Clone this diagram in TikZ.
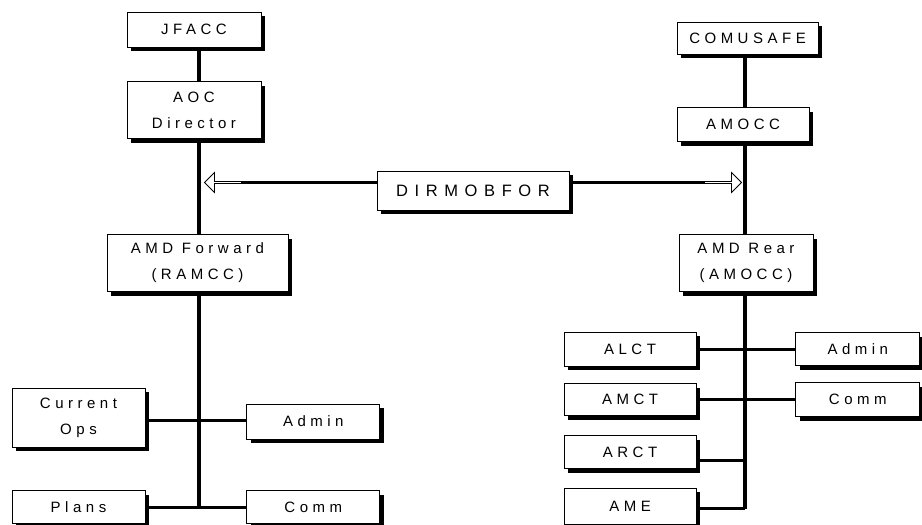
\documentclass[tikz,border=0pt]{standalone}
\usepackage{fontspec}
\setmainfont{Liberation Sans}[LetterSpace=30]
\usetikzlibrary{positioning,shadows,shapes.arrows}

\begin{document}
\begin{tikzpicture}[x=1pt, y=-1pt,
    org/.style={draw, fill=white, line width=0.8pt, inner sep=0pt, align=center,
        font=\fontsize{15}{26}\selectfont,
        drop shadow={shadow xshift=4pt, shadow yshift=-4pt, fill=black, opacity=1}},
    wide/.style={font=\fontsize{16.5}{26}\selectfont\addfontfeature{LetterSpace=40}},
    spine/.style={line width=3.5pt},
    branch/.style={line width=3pt},
    hollow/.style={single arrow, draw, fill=white, line width=0.8pt, inner sep=0pt,
        minimum height=37pt, minimum width=20pt, single arrow head extend=4pt}
]
    \useasboundingbox (0,0) rectangle (922,525);

    % Forward side
    \node[org, minimum width=134pt, minimum height=35pt] (jfacc) at (194,29.5) {JFACC};
    \node[org, minimum width=134pt, minimum height=57pt, below=34pt of jfacc] (aoc) {AOC\\Director};
    \node[org, minimum width=181pt, minimum height=57pt, below=95pt of aoc, xshift=3.5pt] (amdf) {AMD Forward\\(RAMCC)};

    \node[org, minimum width=133pt, minimum height=59pt] (curops) at (78.5,417.5) {Current\\Ops};
    \node[org, minimum width=133pt, minimum height=33pt, below=43pt of curops] (plans) {Plans};
    \node[org, minimum width=133pt, minimum height=35pt, right=101pt of curops, yshift=-4pt] (ladmin) {Admin};
    \node[org, minimum width=133pt, minimum height=33pt, right=101pt of plans] (lcomm) {Comm};

    % Rear side
    \node[org, minimum width=141pt, minimum height=32pt] (comusafe) at (747.5,38) {COMUSAFE};
    \node[org, minimum width=132pt, minimum height=34pt, below=53pt of comusafe, xshift=-4.5pt] (amocc) {AMOCC};
    \node[org, minimum width=134pt, minimum height=57pt, below=92pt of amocc, xshift=3pt] (amdr) {AMD Rear\\(AMOCC)};

    \node[org, minimum width=132pt, minimum height=34pt] (alct) at (630,349) {ALCT};
    \node[org, minimum width=132pt, minimum height=32pt, below=17pt of alct] (amct) {AMCT};
    \node[org, minimum width=132pt, minimum height=33pt, below=19pt of amct] (arct) {ARCT};
    \node[org, minimum width=132pt, minimum height=36pt, below=19pt of arct] (ame) {AME};
    \node[org, minimum width=124pt, minimum height=33pt, right=99pt of alct] (radmin) {Admin};
    \node[org, minimum width=124pt, minimum height=34pt, right=99pt of amct] (rcomm) {Comm};

    % Director of mobility forces
    \node[org, wide, minimum width=192pt, minimum height=39pt] (dirmob) at (473,190.5) {DIRMOBFOR};
    \node[hollow, shape border rotate=180] (larrow) at (223.5,182.5) {};
    \node[hollow] (rarrow) at (722.5,182.5) {};

    \coordinate (lsp) at (199,0);
    \coordinate (rsp) at (745,0);

    % Lines
    \draw[spine] (jfacc.south -| lsp) -- (aoc.north -| lsp);
    \draw[spine] (aoc.south -| lsp) -- (amdf.north -| lsp);
    \draw[spine] (amdf.south -| lsp) -- (plans.east -| lsp);
    \draw[branch] ([yshift=-2.5pt]curops.east) -- ([yshift=-2.5pt]curops.east -| ladmin.west);
    \draw[branch] (plans.east) -- (lcomm.west);

    \draw[spine] (comusafe.south -| rsp) -- (amocc.north -| rsp);
    \draw[spine] (amocc.south -| rsp) -- (amdr.north -| rsp);
    \draw[spine] (amdr.south -| rsp) -- ([yshift=-2.5pt]ame.east -| rsp);
    \draw[branch] (alct.east) -- (radmin.west);
    \draw[branch] (amct.east) -- (rcomm.west);
    \draw[branch] ([yshift=-8.5pt]arct.east) -- ([yshift=-8.5pt]arct.east -| rsp);
    \draw[branch] ([yshift=-2.5pt]ame.east) -- ([yshift=-2.5pt]ame.east -| rsp);

    \draw[branch] (larrow.tail -| dirmob.west) -- (larrow.tail);
    \draw[branch] (rarrow.tail -| dirmob.east) -- (rarrow.tail);
\end{tikzpicture}
\end{document}
